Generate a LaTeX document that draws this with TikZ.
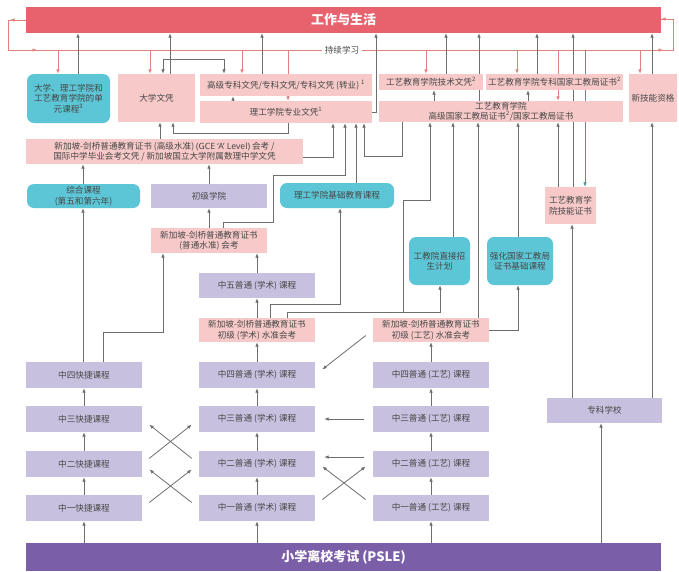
\documentclass[tikz,border=0pt]{standalone}
\usepackage{fontspec}
\setmainfont{Noto Sans CJK SC}
\newfontfamily\latinfont{Noto Sans}
\usetikzlibrary{arrows.meta,backgrounds}
\definecolor{workred}{HTML}{E8626E}
\definecolor{pslepurple}{HTML}{7A5EA8}
\definecolor{boxpink}{HTML}{F7CAC9}
\definecolor{boxlilac}{HTML}{C7C0DF}
\definecolor{boxteal}{HTML}{5CC6D6}
\definecolor{linegray}{HTML}{6E6E6E}
\definecolor{linepink}{HTML}{E0827C}
\definecolor{lineteal}{HTML}{3C9CAC}
\definecolor{txtgray}{HTML}{474747}
\tikzset{
  wh/.style 2 args={minimum width=#1pt, minimum height=#2pt},
  box/.style={inner sep=0.5pt, align=center, text=txtgray, font=\fontsize{8.6}{10.5}\selectfont},
  pinkbox/.style={box, fill=boxpink},
  lilacbox/.style={box, fill=boxlilac},
  tealbox/.style={box, fill=boxteal, rounded corners=7pt},
  bar/.style={inner sep=0pt, text=white, font=\bfseries\fontsize{13}{15}\selectfont},
  arr/.style={linegray, line width=0.8pt, -{Latex[length=4.5pt,width=3.6pt]}},
  dblarr/.style={arr, {Latex[length=4.5pt,width=3.6pt]}-{Latex[length=4.5pt,width=3.6pt]}},
  pinkarr/.style={arr, linepink},
  tealarr/.style={arr, lineteal},
  loopline/.style={linepink, line width=0.8pt},
  side/.style={arr, shorten <=9pt, shorten >=9pt}
}
\begin{document}
\begin{tikzpicture}[x=1pt,y=-1pt]
\useasboundingbox (0,0) rectangle (679,571);
% bars
\node[bar, fill=workred, wh={635}{26}] (work) at (343.5,20) {工作与生活};
\node[bar, fill=pslepurple, wh={635}{28}] (psle) at (343.5,557) {小学离校考试 (PSLE)};
\node[text=txtgray, font=\fontsize{8.6}{10}\selectfont, inner sep=3pt] (cl) at (342,50) {持续学习};
% qualifications
\node[tealbox, wh={83}{49}] (unit) at (68.5,98.5) {大学、理工学院和\\工艺教育学院的单\\元课程\textsuperscript{3}};
\node[pinkbox, wh={77}{48}] (dip) at (156.5,98) {大学文凭};
\node[pinkbox, wh={172}{22}] (hdip) at (286,85) {高级专科文凭/专科文凭/专科文凭 (转业) \textsuperscript{1}};
\node[pinkbox, wh={172}{22}] (pdip) at (286,112) {理工学院专业文凭\textsuperscript{1}};
\node[pinkbox, wh={104}{16}] (tdip) at (431,82) {工艺教育学院技术文凭\textsuperscript{2}};
\node[pinkbox, wh={137}{16}] (snitec) at (554.5,82) {工艺教育学院专科国家工教局证书\textsuperscript{2}};
\node[pinkbox, wh={244}{21}, inner sep=0pt] (hnitec) at (501,111.5) {工艺教育学院\\高级国家工教局证书\textsuperscript{2}/国家工教局证书};
\node[pinkbox, wh={48}{48}] (nsq) at (653,98) {新技能资格};
\node[pinkbox, wh={277}{25}] (alevel) at (164.5,151.5) {新加坡-剑桥普通教育证书 (高级水准) {\latinfont (GCE ‘A’ Level)} 会考 /\\国际中学毕业会考文凭 / 新加坡国立大学附属数理中学文凭};
\node[tealbox, wh={113}{24}] (ip) at (83.5,196) {综合课程\\(第五和第六年)};
\node[lilacbox, wh={116}{24}] (jc) at (209,196) {初级学院};
\node[tealbox, wh={114}{25}] (pfp) at (337,195.5) {理工学院基础教育课程};
\node[pinkbox, wh={51}{37}] (stc) at (570.5,205.5) {工艺教育学\\院技能证书};
\node[pinkbox, wh={116}{25}] (olevel) at (209,240.5) {新加坡-剑桥普通教育证书\\(普通水准) 会考};
\node[tealbox, wh={61}{48}] (dpp) at (439.5,261) {工教院直接招\\生计划};
\node[tealbox, wh={66}{48}] (enfc) at (520,261) {强化国家工教局\\证书基础课程};
\node[lilacbox, wh={116}{25}] (s5na) at (257,285.5) {中五普通 (学术) 课程};
\node[pinkbox, wh={116}{24}] (na) at (257,330) {新加坡-剑桥普通教育证书\\初级 (学术) 水准会考};
\node[pinkbox, wh={116}{24}] (nt) at (431,330) {新加坡-剑桥普通教育证书\\初级 (工艺) 水准会考};
% secondary courses
\foreach \n/\lv/\y in {4/中四/375, 3/中三/419, 2/中二/464, 1/中一/508} {
  \node[lilacbox, wh={116}{26}] (s\n e) at (84,\y) {\lv 快捷课程};
  \node[lilacbox, wh={116}{26}] (s\n na) at (257,\y) {\lv 普通 (学术) 课程};
  \node[lilacbox, wh={116}{26}] (s\n nt) at (431,\y) {\lv 普通 (工艺) 课程};
}
\node[lilacbox, wh={115}{25}] (spec) at (604.5,410.5) {专科学校};
% connectors
\begin{scope}[on background layer]
\fill[white] (0,0) rectangle (679,571);
\draw[loopline] (work.west) -- (8,20) -- (8,50) -- (cl.west);
\draw[loopline] (cl.east) -- (673,50) -- (673,19) -- (work.east |- 0,19);
\draw[pinkarr] (work.west) -- (10,20);
\draw[pinkarr] (20,50) -- (37,50);
\draw[pinkarr] (645,50) -- (663,50);
\draw[pinkarr] (673,19) -- (work.east |- 0,19);
\foreach \x/\t in {58/unit, 150/dip, 242/hdip, 288/pdip, 426/tdip, 517/snitec, 558/hnitec, 640/nsq}
  \draw[pinkarr] (\x,50) -- (\x,0 |- \t.north);
\draw[tealarr] (585,50) -- (585,0 |- stc.north);
\foreach \x/\f in {78/unit, 170/dip, 262/hdip, 446/tdip, 479/hnitec, 537/snitec, 573/stc, 652/nsq}
  \draw[arr] (\x,0 |- \f.north) -- (\x,0 |- work.south);
\draw[arr] (pdip.east) -- (376,0 |- pdip.east) -- (376,0 |- work.south);
\draw[dblarr] (163,0 |- dip.north) -- (163,59) -- (224,59) -- (224,0 |- hdip.north);
\draw[arr] (233,0 |- pdip.north) -- (233,0 |- hdip.south);
\draw[arr] (288,0 |- pdip.south) -- (288,133) -- (173,133) -- (173,0 |- dip.south);
\draw[arr] (160,0 |- alevel.north) -- (160,0 |- dip.south);
\draw[arr] (alevel.east |- 0,157) -- (333,157) -- (333,0 |- pdip.south);
\draw[arr] (223,0 |- olevel.north) -- (223,222) -- (273,222) -- (273,175) -- (345,175) -- (345,0 |- pdip.south);
\draw[arr] (356,0 |- pfp.north) -- (356,0 |- pdip.south);
\draw[arr] (402,0 |- hnitec.south) -- (402,156) -- (364,156) -- (364,0 |- pdip.south);
\draw[arr] (434,0 |- hnitec.north) -- (434,0 |- tdip.south);
\draw[arr] (528,0 |- hnitec.north) -- (528,0 |- snitec.south);
\draw[arr] (83,0 |- ip.north) -- (83,0 |- alevel.south);
\draw[arr] (jc.north) -- (jc.north |- alevel.south);
\draw[arr] (olevel.north) -- (jc.south);
\draw[arr] (83,0 |- s4e.north) -- (83,0 |- ip.south);
\draw[arr] (103,0 |- s4e.north) -- (103,332) -- (163,332) -- (163,0 |- olevel.south);
\draw[arr] (s5na.north) -- (s5na.north |- olevel.south);
\draw[arr] (na.north) -- (s5na.south);
\draw[arr] (270,0 |- na.north) -- (270,304) -- (340,304) -- (340,0 |- pfp.south);
\draw[arr] (287,0 |- na.north) -- (287,312) -- (440,312) -- (440,0 |- dpp.south);
\draw[arr] (287,0 |- na.north) -- (287,312) -- (403,312) -- (403,200) -- (430,200) -- (430,0 |- hnitec.south);
\draw[arr] (453,0 |- dpp.north) -- (453,0 |- hnitec.south);
\draw[arr] (478,0 |- nt.north) -- (478,0 |- hnitec.south);
\draw[arr] (nt.east) -- (518,0 |- nt.east) -- (518,0 |- enfc.south);
\draw[arr] (518,0 |- enfc.north) -- (518,0 |- hnitec.south);
\draw[arr] (558,0 |- stc.north) -- (558,0 |- hnitec.south);
\draw[arr] (572,0 |- spec.north) -- (572,0 |- stc.south);
\draw[arr] (652,0 |- spec.north) -- (652,0 |- nsq.south);
\draw[arr] (601,0 |- psle.north) -- (601,0 |- spec.south);
\foreach \c in {e,na,nt} {
  \draw[arr] (s1\c.south |- psle.north) -- (s1\c.south);
  \draw[arr] (s1\c.north) -- (s2\c.south);
  \draw[arr] (s2\c.north) -- (s3\c.south);
  \draw[arr] (s3\c.north) -- (s4\c.south);
}
\draw[arr] (s4na.north) -- (na.south);
\draw[arr] (s4nt.north) -- (nt.south);
% transfers
\draw[side] (s2na.west) -- (s3e.east);
\draw[side] (s2e.east) -- (s3na.west);
\draw[side] (s1na.west) -- (s2e.east);
\draw[side] (s1e.east) -- (s2na.west);
\draw[side] (s3nt.west) -- (s3na.east);
\draw[side] ([yshift=7pt]s2nt.west) -- ([yshift=7pt]s2na.east);
\draw[side] ([yshift=3pt]s1nt.west) -- ([yshift=3pt]s2na.east);
\draw[side] ([yshift=3pt]s1na.east) -- ([yshift=3pt]s2nt.west);
\draw[side] (nt.west) -- (s4na.east);
\end{scope}
\end{tikzpicture}
\end{document}
